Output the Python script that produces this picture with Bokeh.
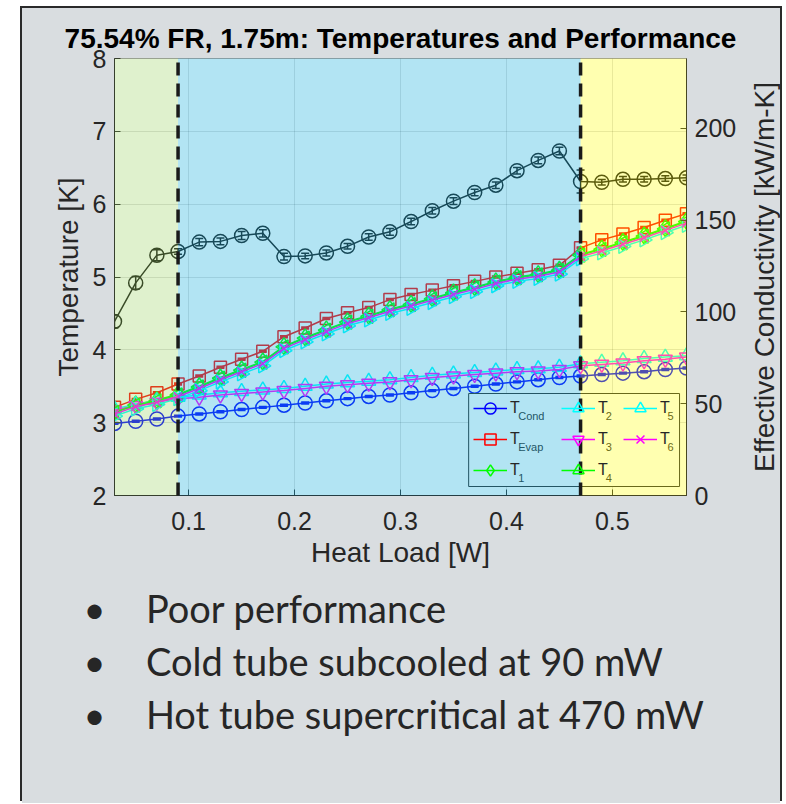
import numpy as np
from bokeh.plotting import figure
from bokeh.layouts import row
from bokeh.models import (Range1d, LinearAxis, ColumnDataSource, Whisker, TeeHead,
                          Legend, LegendItem, Title)
from bokeh.core.properties import value
from bokeh.embed import file_html
from bokeh.resources import INLINE

# ---------------- data ----------------
heat_load = [0.03, 0.05, 0.07, 0.09, 0.11, 0.13, 0.15, 0.17, 0.19, 0.21, 0.23, 0.25, 0.27, 0.29,
             0.31, 0.33, 0.35, 0.37, 0.39, 0.41, 0.43, 0.45, 0.47, 0.49, 0.51, 0.53, 0.55, 0.57]
t_cond = [2.99, 3.02, 3.05, 3.09, 3.12, 3.15, 3.18, 3.21, 3.24, 3.27, 3.30, 3.33, 3.36, 3.38,
          3.41, 3.44, 3.47, 3.50, 3.53, 3.56, 3.59, 3.62, 3.64, 3.66, 3.68, 3.70, 3.73, 3.75]
t_evap = [3.21, 3.32, 3.41, 3.53, 3.64, 3.76, 3.87, 3.98, 4.18, 4.30, 4.43, 4.51, 4.58, 4.69,
          4.76, 4.82, 4.88, 4.94, 5.00, 5.05, 5.10, 5.16, 5.40, 5.51, 5.59, 5.68, 5.78, 5.87]
t_1 = [3.15, 3.25, 3.31, 3.39, 3.50, 3.62, 3.73, 3.84, 4.05, 4.17, 4.28, 4.39, 4.47, 4.56,
       4.63, 4.71, 4.79, 4.86, 4.94, 5.00, 5.04, 5.10, 5.31, 5.39, 5.48, 5.57, 5.67, 5.77]
t_2 = [3.19, 3.25, 3.30, 3.35, 3.38, 3.41, 3.43, 3.45, 3.47, 3.50, 3.53, 3.55, 3.57, 3.59,
       3.62, 3.65, 3.67, 3.69, 3.71, 3.73, 3.74, 3.76, 3.81, 3.83, 3.85, 3.88, 3.90, 3.92]
t_3 = [3.17, 3.23, 3.28, 3.33, 3.35, 3.38, 3.40, 3.42, 3.44, 3.47, 3.50, 3.52, 3.54, 3.56,
       3.59, 3.62, 3.64, 3.66, 3.68, 3.70, 3.71, 3.73, 3.78, 3.80, 3.82, 3.85, 3.87, 3.90]
t_4 = [3.14, 3.24, 3.30, 3.38, 3.49, 3.61, 3.72, 3.83, 4.04, 4.16, 4.27, 4.38, 4.46, 4.55,
       4.62, 4.70, 4.78, 4.85, 4.93, 4.99, 5.03, 5.09, 5.30, 5.38, 5.47, 5.56, 5.66, 5.76]
t_5 = [3.09, 3.19, 3.25, 3.33, 3.44, 3.56, 3.67, 3.78, 3.99, 4.11, 4.22, 4.33, 4.41, 4.50,
       4.57, 4.65, 4.73, 4.80, 4.88, 4.94, 4.98, 5.04, 5.25, 5.33, 5.42, 5.51, 5.61, 5.71]
t_6 = [3.12, 3.22, 3.28, 3.36, 3.47, 3.59, 3.70, 3.81, 4.02, 4.14, 4.25, 4.36, 4.44, 4.53,
       4.60, 4.68, 4.76, 4.83, 4.91, 4.97, 5.01, 5.07, 5.28, 5.36, 5.45, 5.54, 5.64, 5.74]
t_cond_err = [0.01, 0.01, 0.01, 0.01, 0.01, 0.01, 0.01, 0.01, 0.01, 0.01, 0.01, 0.01, 0.01, 0.01,
              0.01, 0.01, 0.01, 0.01, 0.01, 0.01, 0.01, 0.01, 0.01, 0.01, 0.01, 0.01, 0.01, 0.01]
t_evap_err = [0.01, 0.01, 0.01, 0.01, 0.01, 0.01, 0.01, 0.01, 0.01, 0.01, 0.01, 0.01, 0.01, 0.01,
              0.01, 0.01, 0.01, 0.01, 0.01, 0.01, 0.01, 0.01, 0.01, 0.01, 0.01, 0.01, 0.01, 0.01]
conductivity = [94.8, 115.8, 130.9, 132.9, 138.0, 138.4, 141.6, 142.8, 130.1, 130.5, 132.1, 135.7,
                140.8, 143.6, 149.2, 155.1, 160.3, 165.0, 169.0, 176.9, 182.5, 187.6, 171.0,
                170.6, 172.2, 172.2, 172.6, 173.0]
conductivity_err = [3.5, 3.5, 3.0, 1.5, 2.0, 1.8, 2.2, 2.0, 1.8, 1.5, 1.6, 1.5, 1.8, 1.8,
                    1.8, 1.8, 1.8, 1.8, 1.8, 1.8, 1.8, 2.0, 6.3, 1.5, 1.5, 1.5, 1.5, 1.5]

region_edges = [0.03, 0.09, 0.47, 0.57]
region_colors = ["#96d25a", "#1eb0dc", "#ffff00"]
region_alpha = [0.30, 0.34, 0.31]
transition_loads = [0.09, 0.47]

x_limits = (0.03, 0.57)
temp_limits = (2, 8)
cond_limits = (0, 238)
x_ticks = [0.1, 0.2, 0.3, 0.4, 0.5]
temp_ticks = [2, 3, 4, 5, 6, 7, 8]
cond_ticks = [0, 50, 100, 150, 200]

title_text = "75.54% FR, 1.75m: Temperatures and Performance"
x_label = "Heat Load [W]"
y_label = "Temperature [K]"
y2_label = "Effective Conductivity [kW/m-K]"
bullets = ["Poor performance", "Cold tube subcooled at 90 mW", "Hot tube supercritical at 470 mW"]

series = [
    ("Cond", t_cond, "#0000ff", "circle", 14, 0),
    ("Evap", t_evap, "#ff0000", "square", 12, 0),
    ("1", t_1, "#00ff00", "diamond", 17, 0),
    ("2", t_2, "#00ffff", "triangle", 14, 0),
    ("3", t_3, "#ff00ff", "inverted_triangle", 14, 0),
    ("4", t_4, "#00ff00", "triangle", 14, np.pi / 2),
    ("5", t_5, "#00ffff", "triangle", 14, -np.pi / 2),
    ("6", t_6, "#ff00ff", "x", 12, 0),
]

# ---------------- layout constants ----------------
H = 795
ML, MT, FW, FH = 92, 50, 575, 437
MR = 50
MB = H - MT - FH
W1 = ML + FW + MR
W2 = 41
panel_bg = "#d9dde0"
ink = "#262626"
font = "Liberation Sans"

p = figure(width=W1, height=H, x_range=Range1d(*x_limits), y_range=Range1d(*temp_limits),
           output_backend="svg", toolbar_location=None,
           min_border_left=ML, min_border_right=MR, min_border_top=MT, min_border_bottom=MB)
p.border_fill_color = panel_bg
p.background_fill_color = "white"
p.outline_line_color = "#9a9a9a"
p.outline_line_width = 1

p.title.text = title_text
p.title.align = "center"
p.title.text_font = font
p.title.text_font_size = "28px"
p.title.text_font_style = "bold"
p.title.text_color = "#000000"

p.extra_y_ranges = {"cond": Range1d(*cond_limits), "py": Range1d(0, FH)}
p.extra_x_ranges = {"px": Range1d(0, FW)}
right_axis = LinearAxis(y_range_name="cond")
p.add_layout(right_axis, "right")

p.xaxis.ticker = x_ticks
p.xaxis.axis_label = x_label
p.yaxis[0].ticker = temp_ticks
p.yaxis[0].axis_label = y_label
right_axis.ticker = cond_ticks

for ax in [p.xaxis[0], p.yaxis[0], right_axis]:
    ax.major_tick_in = 6
    ax.major_tick_out = 0
    ax.minor_tick_line_color = None
    ax.axis_line_color = ink
    ax.major_tick_line_color = ink
    ax.major_label_text_font = font
    ax.major_label_text_font_size = "25px"
    ax.major_label_text_color = ink
    ax.axis_label_text_font = font
    ax.axis_label_text_font_size = "28px"
    ax.axis_label_text_font_style = "normal"
    ax.axis_label_text_color = ink
    ax.major_label_standoff = 8
    ax.axis_label_standoff = 6
p.xaxis[0].major_label_standoff = 16
p.xaxis[0].axis_label_standoff = 4

p.xgrid.ticker = x_ticks
p.ygrid.ticker = temp_ticks
p.grid.grid_line_color = ink
p.grid.grid_line_alpha = 0.15

# conductivity with error bars
csrc = ColumnDataSource(dict(x=heat_load, y=conductivity,
                             lo=[c - e for c, e in zip(conductivity, conductivity_err)],
                             hi=[c + e for c, e in zip(conductivity, conductivity_err)]))
p.line("x", "y", source=csrc, y_range_name="cond", line_color="#141414", line_width=1.5)
p.scatter("x", "y", source=csrc, y_range_name="cond", marker="circle", size=14,
          fill_color=None, line_color="#141414", line_width=1.5)
p.add_layout(Whisker(source=csrc, base="x", lower="lo", upper="hi", y_range_name="cond",
                     line_color="#141414", line_width=1.5,
                     upper_head=TeeHead(size=8, line_color="#141414", line_width=1.5),
                     lower_head=TeeHead(size=8, line_color="#141414", line_width=1.5)))

# temperature series
items = []
for name, vals, col, mk, sz, ang in series:
    src = ColumnDataSource(dict(x=heat_load, y=vals))
    lr = p.line("x", "y", source=src, line_color=col, line_width=1.5)
    sr = p.scatter("x", "y", source=src, marker=mk, size=sz, angle=ang,
                   fill_color=None, line_color=col, line_width=1.5)
    items.append(LegendItem(label="T", renderers=[lr, sr]))

for vals, errs, col in [(t_cond, t_cond_err, "#0000ff"), (t_evap, t_evap_err, "#ff0000")]:
    esrc = ColumnDataSource(dict(x=heat_load, lo=[v - e for v, e in zip(vals, errs)],
                                 hi=[v + e for v, e in zip(vals, errs)]))
    p.add_layout(Whisker(source=esrc, base="x", lower="lo", upper="hi", line_color=col,
                         line_width=1.5,
                         upper_head=TeeHead(size=8, line_color=col, line_width=2),
                         lower_head=TeeHead(size=8, line_color=col, line_width=2)))

# legend: a white panel (tinted by the regime shading) + two transparent legends
BOX_L, BOX_R, BOX_B, BOX_T = 356, 568, 9, 102          # frame pixels
LG_PAD, LG_SP, GW, GH, STANDOFF = 1, 3, 34, 28, 3
LEG_X = [358, 446]
LEG_Y = 10
LEG_LW = [40, 22]
T_W = 9.8
p.quad(left=[BOX_L], right=[BOX_R], bottom=[BOX_B], top=[BOX_T],
       x_range_name="px", y_range_name="py", fill_color="white", line_color=ink, line_width=1)
for grp, lx, lw in [(items[:3], LEG_X[0], LEG_LW[0]), (items[3:], LEG_X[1], LEG_LW[1])]:
    p.add_layout(Legend(items=grp, location=(lx, LEG_Y), orientation="vertical", nrows=3,
                        padding=LG_PAD, spacing=LG_SP, margin=0, glyph_width=GW,
                        glyph_height=GH, label_height=GH, label_standoff=STANDOFF,
                        label_width=lw, label_text_font=font, label_text_font_size="16px",
                        label_text_color=ink, background_fill_alpha=0.0,
                        border_line_color=ink, border_line_alpha=0.0))

item_w_b = GW + STANDOFF + LEG_LW[1]
col_x = [LEG_X[0] + LG_PAD, LEG_X[1] + LG_PAD, LEG_X[1] + LG_PAD + item_w_b + LG_SP]
top_y = LEG_Y + 2 * LG_PAD + 3 * GH + 2 * LG_SP
sub_x, sub_y, sub_t = [], [], []
for i, (name, *_rest) in enumerate(series):
    c, r = i // 3, i % 3
    sub_x.append(col_x[c] + GW + STANDOFF + T_W)
    sub_y.append(top_y - LG_PAD - r * (GH + LG_SP) - GH / 2 - 7)
    sub_t.append(name)
p.text(x=sub_x, y=sub_y, text=sub_t, x_range_name="px", y_range_name="py",
       text_font=value(font), text_font_size=value("11px"), text_color=ink,
       text_baseline="middle", text_align="left")

# shaded regimes drawn over the data (as in the original)
p.quad(left=region_edges[:-1], right=region_edges[1:], bottom=temp_limits[0], top=temp_limits[1],
       fill_color=region_colors, fill_alpha=region_alpha, line_color=None, level="overlay")
p.segment(x0=transition_loads, x1=transition_loads, y0=temp_limits[0], y1=temp_limits[1],
          line_color="#1a1a1a", line_width=3.5, line_dash="13 8", level="overlay")

# bullet text below the axes
bullet_text = "\n".join("\u2022\u2003\u2005\u200a" + b for b in bullets)
p.add_layout(Title(text=bullet_text, align="left", offset=-31,
                   text_font="Lato", text_font_size="38px", text_font_style="normal",
                   text_color=ink, text_line_height=1.15, standoff=25), "below")

# right-hand axis title (reads bottom-to-top, as in the original)
p2 = figure(width=W2, height=H, x_range=Range1d(0, 1), y_range=Range1d(*cond_limits),
            output_backend="svg", toolbar_location=None, x_axis_location=None,
            min_border_left=W2 - 1, min_border_right=0, min_border_top=MT, min_border_bottom=MB)
p2.border_fill_color = panel_bg
p2.background_fill_color = panel_bg
p2.outline_line_color = None
p2.grid.visible = False
ax2 = p2.yaxis[0]
ax2.ticker = []
ax2.axis_line_color = None
ax2.major_tick_line_color = None
ax2.minor_tick_line_color = None
ax2.major_label_text_font_size = "0px"
ax2.major_label_standoff = 0
ax2.axis_label = y2_label
ax2.axis_label_standoff = 0
ax2.axis_label_text_font = font
ax2.axis_label_text_font_size = "28px"
ax2.axis_label_text_font_style = "normal"
ax2.axis_label_text_color = ink

layout = row(p, p2, spacing=0)
layout.margin = (8, 0, 0, 22)
layout.styles = {"box-shadow": "-2px -2px 0 0 #2a2a2a, 2px -2px 0 0 #2a2a2a",
                 "background-color": panel_bg}

open("out.html", "w").write(file_html(layout, INLINE))
